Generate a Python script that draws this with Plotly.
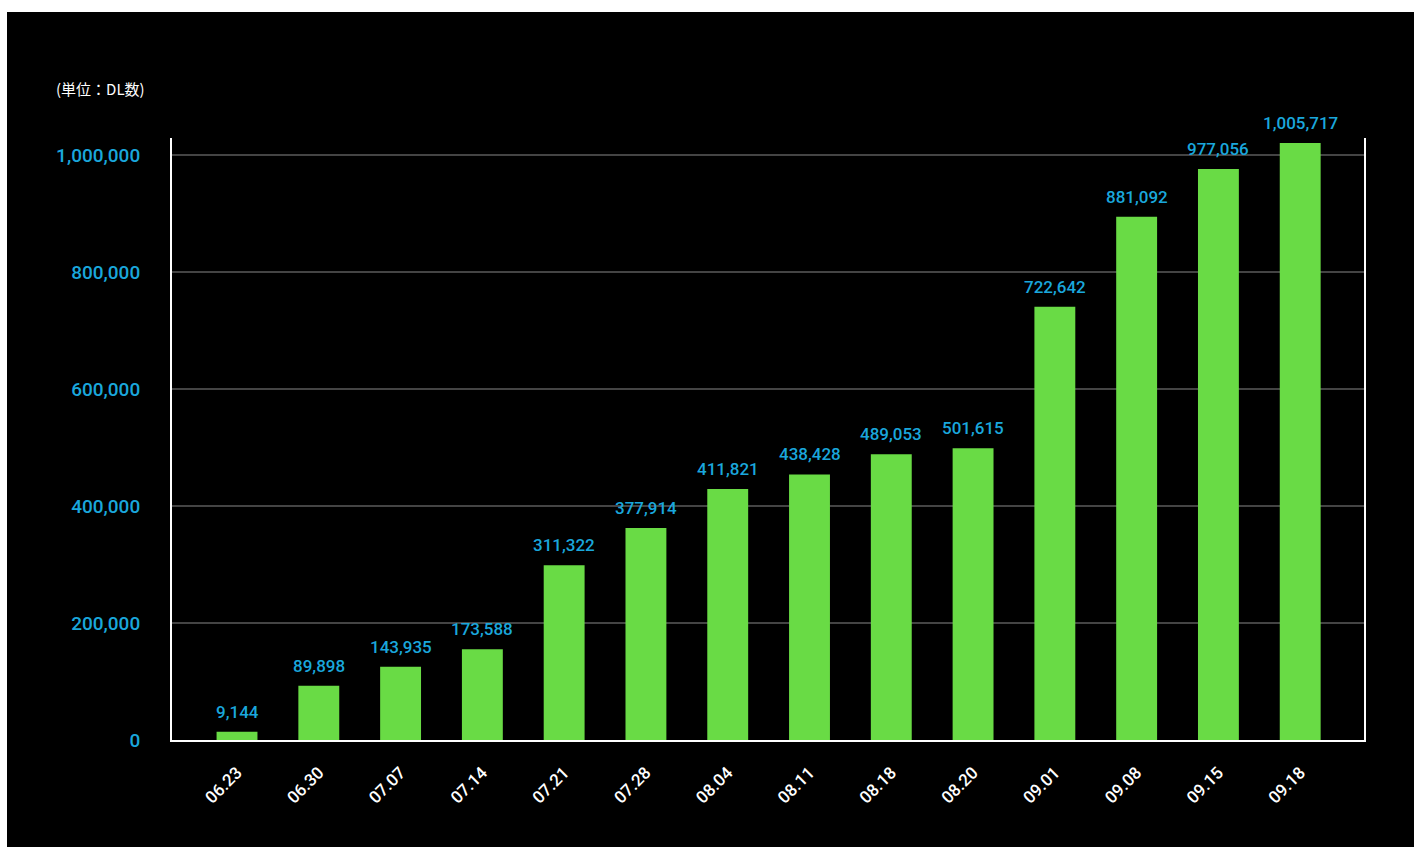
import plotly.graph_objects as go

categories = ["06.23", "06.30", "07.07", "07.14", "07.21", "07.28", "08.04",
              "08.11", "08.18", "08.20", "09.01", "09.08", "09.15", "09.18"]
# bar heights as drawn in the picture
bar_heights = [14200, 92800, 125300, 155000, 298600, 362400, 429000,
               454000, 488400, 498600, 740700, 894500, 976000, 1020500]
# value labels printed above the bars
label_values = [9144, 89898, 143935, 173588, 311322, 377914, 411821,
                438428, 489053, 501615, 722642, 881092, 977056, 1005717]
y_ticks = [0, 200000, 400000, 600000, 800000, 1000000]
unit_label = "(単位：DL数)"

GREEN = "#69db45"
CYAN = "#1aa7dc"
FONT = "Roboto, Noto Sans, sans-serif"

W, H = 1414, 847
ML, MR, MT, MB = 172, 50, 138, 107
PW, PH = W - ML - MR, H - MT - MB

fig = go.Figure()
fig.add_trace(go.Bar(
    x=list(range(len(categories))),
    y=bar_heights,
    marker=dict(color=GREEN, line=dict(width=0)),
    width=0.5,
    hoverinfo="skip",
))

for i, (h, v) in enumerate(zip(bar_heights, label_values)):
    fig.add_annotation(
        x=i, y=h, xref="x", yref="y",
        text=f"{v:,}", showarrow=False,
        yanchor="bottom", yshift=8,
        font=dict(family=FONT, size=17, color=CYAN, weight=500),
    )

fig.add_annotation(
    xref="paper", yref="paper",
    x=(54 - ML) / PW, y=1 + (MT - 88) / PH,
    xanchor="left", yanchor="middle",
    text=unit_label, showarrow=False,
    font=dict(family="Noto Sans CJK JP, sans-serif", size=15, color="white"),
)

# white page border (top and left strips)
fig.add_shape(type="rect", xref="paper", yref="paper", layer="above",
              x0=-ML / PW - 0.01, x1=(7 - ML) / PW, y0=-MB / PH - 0.01, y1=1 + MT / PH + 0.01,
              fillcolor="white", line=dict(width=0))
fig.add_shape(type="rect", xref="paper", yref="paper", layer="above",
              x0=-ML / PW - 0.01, x1=1 + MR / PW + 0.01, y0=1 + (MT - 12) / PH, y1=1 + MT / PH + 0.01,
              fillcolor="white", line=dict(width=0))

fig.update_layout(
    width=W, height=H,
    margin=dict(l=ML, r=MR, t=MT, b=MB, pad=0),
    paper_bgcolor="black", plot_bgcolor="black",
    showlegend=False,
    bargap=0.5,
    font=dict(family=FONT),
)
fig.update_xaxes(
    range=[-0.795, 13.78],
    tickvals=list(range(len(categories))), ticktext=categories,
    tickangle=-45,
    tickfont=dict(family=FONT, size=17, color="white", weight=500),
    showgrid=False, zeroline=False,
    showline=True, linecolor="white", linewidth=2, mirror=False,
    ticks="", ticklabelstandoff=14,
)
fig.update_yaxes(
    range=[0, 1029000],
    tickvals=y_ticks, tickformat=",d",
    tickfont=dict(family=FONT, size=19, color=CYAN, weight=500),
    showgrid=True, gridcolor="#444444", gridwidth=2,
    zeroline=False,
    showline=True, linecolor="white", linewidth=2, mirror=True,
    ticks="", ticklabelstandoff=26,
)

fig.write_html(
    "out.html",
    config={"displayModeBar": False, "staticPlot": True},
    post_script="document.body.style.margin='0';document.body.style.overflow='hidden';",
)
